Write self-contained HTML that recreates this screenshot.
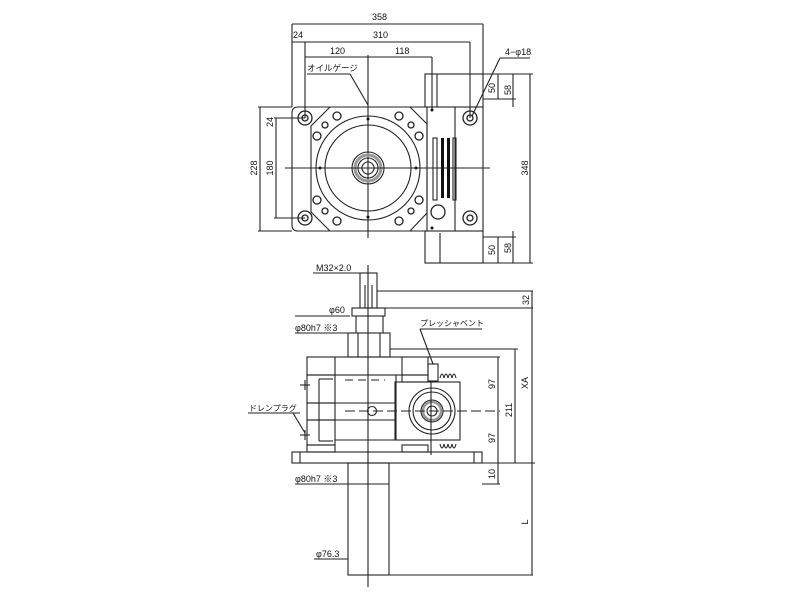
<!DOCTYPE html>
<html><head><meta charset="utf-8"><style>
html,body{margin:0;padding:0;background:#fff;}
svg{display:block;}
text{font-family:"Liberation Sans","Noto Sans CJK JP",sans-serif;fill:#111;}
</style></head><body>
<svg width="800" height="597" viewBox="0 0 800 597" xmlns="http://www.w3.org/2000/svg">
<g stroke="#222" fill="none" stroke-width="1.1">
<line x1="292" y1="24" x2="483" y2="24"/>
<line x1="292" y1="24" x2="292" y2="107"/>
<line x1="483" y1="24" x2="483" y2="74"/>
<line x1="292" y1="42" x2="470" y2="42"/>
<line x1="305" y1="42" x2="305" y2="118"/>
<line x1="470" y1="42" x2="470" y2="118"/>
<line x1="305" y1="57" x2="432" y2="57"/>
<line x1="432" y1="57" x2="432" y2="110"/>
<line x1="307" y1="74" x2="350" y2="74"/>
<line x1="350" y1="74" x2="368" y2="105"/>
<line x1="368" y1="55" x2="368" y2="238"/>
<line x1="500" y1="58" x2="530" y2="58"/>
<line x1="500" y1="58" x2="472" y2="116"/>
<line x1="258" y1="107" x2="292" y2="107"/>
<line x1="258" y1="231" x2="292" y2="231"/>
<line x1="260" y1="107" x2="260" y2="231"/>
<line x1="274" y1="118" x2="305" y2="118"/>
<line x1="274" y1="218" x2="305" y2="218"/>
<line x1="276" y1="118" x2="276" y2="218"/>
<path d="M298 107 H483 V231 H298 Q292 231 292 225 V113 Q292 107 298 107 Z"/>
<line x1="427" y1="107" x2="427" y2="231"/>
<line x1="455" y1="107" x2="455" y2="231"/>
<path d="M330 107 H410 L427 124 V213 L410 231 H330 L311 212 V126 Z"/>
<circle cx="368" cy="168" r="52"/>
<circle cx="368" cy="168" r="43"/>
<circle cx="368" cy="168" r="16"/>
<circle cx="368" cy="168" r="13" stroke="#999" stroke-width="3"/>
<circle cx="368" cy="168" r="10"/>
<circle cx="368" cy="168" r="6"/>
<line x1="285" y1="168" x2="490" y2="168"/>
<g stroke-width="1.3">
<circle cx="305" cy="118" r="7"/><circle cx="305" cy="118" r="3"/>
<circle cx="305" cy="218" r="7"/><circle cx="305" cy="218" r="3"/>
<circle cx="470" cy="118" r="7"/><circle cx="470" cy="118" r="3"/>
<circle cx="470" cy="218" r="7"/><circle cx="470" cy="218" r="3"/>
<circle cx="337" cy="116" r="4"/><circle cx="399" cy="116" r="4"/>
<circle cx="317" cy="136" r="4"/><circle cx="419" cy="136" r="4"/>
<circle cx="317" cy="200" r="4"/><circle cx="419" cy="200" r="4"/>
<circle cx="337" cy="221" r="4"/><circle cx="399" cy="221" r="4"/>
<circle cx="325" cy="125" r="3"/><circle cx="411" cy="125" r="3"/>
<circle cx="325" cy="211" r="3"/><circle cx="411" cy="211" r="3"/>
<circle cx="438" cy="212" r="7"/>
</g>
<g fill="#111" stroke="none">
<circle cx="368" cy="119" r="1.5"/><circle cx="368" cy="217" r="1.5"/>
<circle cx="320" cy="168" r="1.5"/><circle cx="416" cy="168" r="1.5"/>
<circle cx="432" cy="110" r="1.5"/><circle cx="432" cy="228" r="1.5"/>
<rect x="441" y="138" width="3" height="60"/>
<rect x="447" y="138" width="3" height="60"/>
</g>
<rect x="433" y="138" width="4" height="62"/>
<rect x="453" y="138" width="3" height="62"/>
<rect x="425" y="74" width="58" height="33"/>
<rect x="425" y="231" width="58" height="32"/>
<line x1="437" y1="74" x2="437" y2="107"/><line x1="440" y1="233" x2="440" y2="263"/>
<line x1="483" y1="74" x2="533" y2="74"/>
<line x1="483" y1="263" x2="533" y2="263"/>
<line x1="483" y1="99" x2="516" y2="99"/>
<line x1="483" y1="237" x2="516" y2="237"/>
<line x1="530" y1="74" x2="530" y2="263"/>
<line x1="513" y1="74" x2="513" y2="107"/>
<line x1="498" y1="74" x2="498" y2="99"/>
<line x1="513" y1="231" x2="513" y2="263"/>
<line x1="498" y1="237" x2="498" y2="263"/>

<line x1="368" y1="265" x2="368" y2="587"/>
<line x1="313" y1="273" x2="377" y2="273"/>
<rect x="360" y="273" width="17" height="35"/>
<line x1="365" y1="285" x2="365" y2="308"/><line x1="372" y1="285" x2="372" y2="308"/>
<rect x="352" y="308" width="33" height="8"/>
<line x1="377" y1="291" x2="533" y2="291"/>
<line x1="385" y1="308" x2="533" y2="308"/>
<line x1="295" y1="316" x2="350" y2="316"/>
<line x1="356" y1="316" x2="356" y2="333"/><line x1="383" y1="316" x2="383" y2="333"/>
<line x1="295" y1="333" x2="348" y2="333"/>
<rect x="348" y="333" width="42" height="24"/>
<line x1="358" y1="333" x2="358" y2="357"/><line x1="380" y1="333" x2="380" y2="357"/>
<rect x="307" y="357" width="121" height="18"/>
<line x1="335" y1="357" x2="335" y2="375"/><line x1="402" y1="357" x2="402" y2="375"/>
<rect x="307" y="375" width="28" height="28"/>
<rect x="307" y="420" width="28" height="25"/>
<rect x="307" y="403" width="28" height="17"/>
<line x1="319" y1="379" x2="319" y2="441"/>
<line x1="319" y1="379" x2="333" y2="379"/><line x1="319" y1="441" x2="333" y2="441"/>
<path d="M335 375 H396 V440 H335"/>
<path d="M335 403 H396 M335 420 H396"/>
<line x1="345" y1="380" x2="385" y2="380" stroke-dasharray="8,5"/>
<line x1="345" y1="440" x2="385" y2="440" stroke-dasharray="8,5"/>
<line x1="300" y1="385" x2="310" y2="385"/><line x1="305" y1="380" x2="305" y2="390"/>
<line x1="300" y1="435" x2="310" y2="435"/><line x1="305" y1="430" x2="305" y2="440"/>
<rect x="307" y="445" width="28" height="7"/>
<rect x="402" y="445" width="26" height="7"/>
<rect x="395" y="382" width="65" height="58"/>
<rect x="402" y="375" width="26" height="7"/>
<circle cx="432" cy="411" r="23"/>
<circle cx="432" cy="411" r="19"/>
<circle cx="432" cy="411" r="11"/>
<circle cx="432" cy="411" r="9" stroke="#999" stroke-width="2.5"/>
<circle cx="432" cy="411" r="5"/>
<circle cx="372" cy="411" r="4.5"/>
<line x1="345" y1="411" x2="500" y2="411" stroke-dasharray="10,4"/>
<rect x="428" y="364" width="10" height="17"/>
<path d="M440 378 q2 -8 4 0 q2 -8 4 0 q2 -8 4 0 q2 -8 4 0"/>
<path d="M440 444 q2 8 4 0 q2 8 4 0 q2 8 4 0 q2 8 4 0"/>
<line x1="431" y1="382" x2="431" y2="455"/>
<rect x="292" y="452" width="190" height="11"/>
<line x1="300" y1="452" x2="300" y2="463"/><line x1="474" y1="452" x2="474" y2="463"/>
<rect x="348" y="463" width="41" height="112"/>
<line x1="348" y1="484" x2="389" y2="484"/>
<line x1="295" y1="484" x2="348" y2="484"/>
<line x1="314" y1="559" x2="348" y2="559"/>
<line x1="389" y1="575" x2="533" y2="575"/>
<line x1="428" y1="357" x2="500" y2="357"/>
<line x1="390" y1="349" x2="518" y2="349"/>
<line x1="482" y1="463" x2="535" y2="463"/>
<line x1="482" y1="484" x2="500" y2="484"/>
<line x1="515" y1="349" x2="515" y2="463"/>
<line x1="498" y1="357" x2="498" y2="484"/>
<line x1="532" y1="291" x2="532" y2="575"/>
<line x1="420" y1="329" x2="482" y2="329"/>
<line x1="420" y1="329" x2="433" y2="364"/>
<line x1="248" y1="413" x2="300" y2="413"/>
<line x1="293" y1="413" x2="305" y2="433"/>
</g>
<g font-size="9">
<text x="372" y="20">358</text>
<text x="293" y="38">24</text>
<text x="373" y="38">310</text>
<text x="330" y="54">120</text>
<text x="395" y="54">118</text>
<text x="307" y="71" font-size="8.5">オイルゲージ</text>
<text x="505" y="55">4−φ18</text>
<text x="316" y="271">M32×2.0</text>
<text x="329" y="313">φ60</text>
<text x="295" y="331">φ80h7 ※3</text>
<text x="420" y="326" font-size="8">プレッシャベント</text>
<text x="249" y="411" font-size="8">ドレンプラグ</text>
<text x="295" y="482">φ80h7 ※3</text>
<text x="316" y="557">φ76.3</text>
</g>
<g font-size="9">
<text transform="translate(273,122) rotate(-90)" text-anchor="middle">24</text>
<text transform="translate(273,168) rotate(-90)" text-anchor="middle">180</text>
<text transform="translate(257,168) rotate(-90)" text-anchor="middle">228</text>
<text transform="translate(495,88) rotate(-90)" text-anchor="middle">50</text>
<text transform="translate(511,90) rotate(-90)" text-anchor="middle">58</text>
<text transform="translate(528,168) rotate(-90)" text-anchor="middle">348</text>
<text transform="translate(495,250) rotate(-90)" text-anchor="middle">50</text>
<text transform="translate(511,248) rotate(-90)" text-anchor="middle">58</text>
<text transform="translate(529,300) rotate(-90)" text-anchor="middle">32</text>
<text transform="translate(495,384) rotate(-90)" text-anchor="middle">97</text>
<text transform="translate(495,438) rotate(-90)" text-anchor="middle">97</text>
<text transform="translate(512,410) rotate(-90)" text-anchor="middle">211</text>
<text transform="translate(528,383) rotate(-90)" text-anchor="middle">XA</text>
<text transform="translate(495,474) rotate(-90)" text-anchor="middle">10</text>
<text transform="translate(528,522) rotate(-90)" text-anchor="middle">L</text>
</g>
</svg>
</body></html>
